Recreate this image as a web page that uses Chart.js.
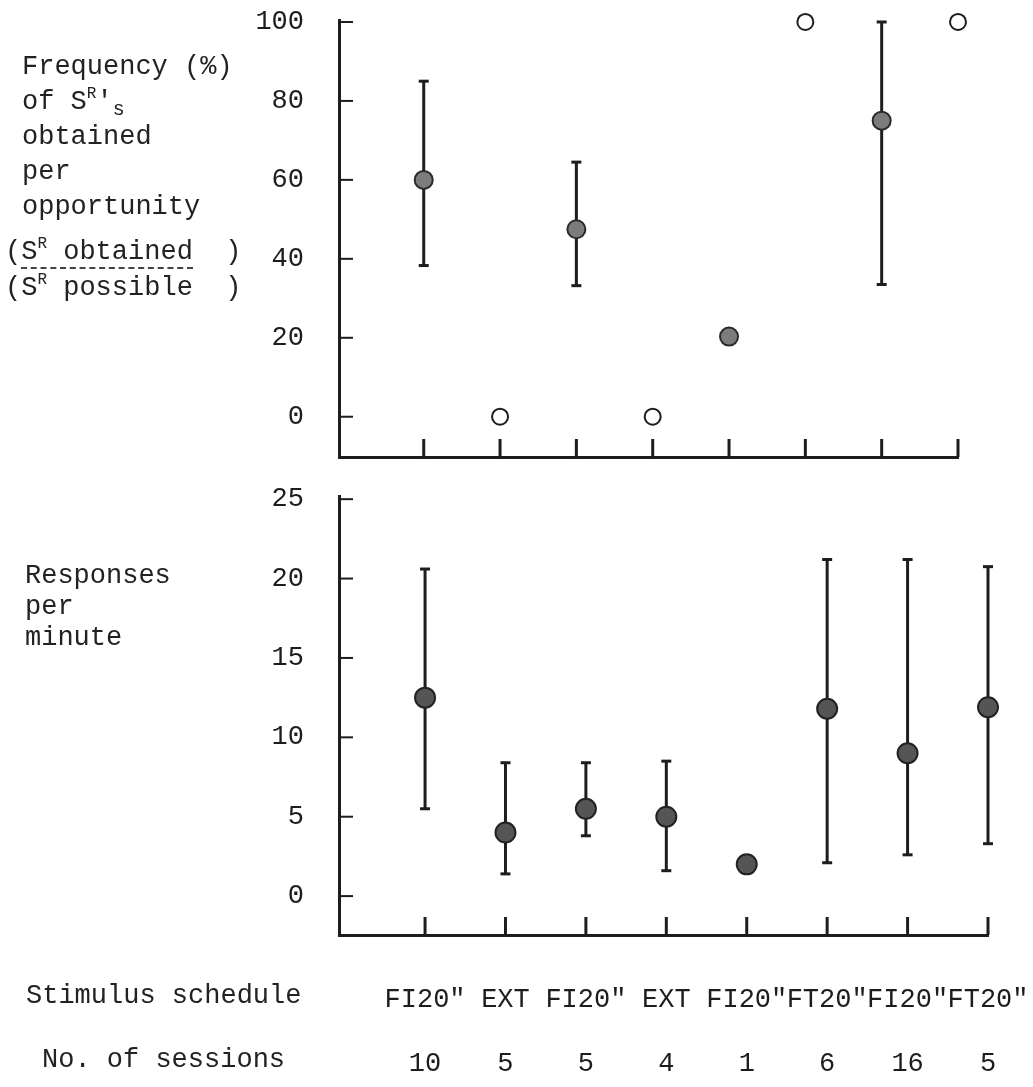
<!DOCTYPE html>
<html lang="en">
<head>
<meta charset="UTF-8">
<title>Reinforcement frequency and response rate by schedule</title>
<script src="https://cdn.jsdelivr.net/npm/chart.js@4.4.1/dist/chart.umd.min.js"></script>
<style>
  body { margin: 0; background: #fff; width: 1033px; height: 1087px; position: relative; overflow: hidden;
         font-family: "Liberation Mono", "DejaVu Sans Mono", monospace; font-size: 27px; color: #222; }
  .box { position: absolute; left: 0; width: 1033px; }
  .txt { position: absolute; white-space: pre; }
  sup { font-size: 16px; vertical-align: 11px; line-height: 0; }
  sub { font-size: 20px; vertical-align: -6px; line-height: 0; }
  .frac { border-bottom: 2px dashed #444; }
</style>
</head>
<body>
<div class="box" style="top:0;height:480px"><canvas id="freqChart" width="1033" height="480"></canvas></div>
<div class="box" style="top:480px;height:607px"><canvas id="rateChart" width="1033" height="607"></canvas></div>

<div class="txt" style="left:22px;top:50px;line-height:35px">Frequency (%)
of S<sup>R</sup>'<sub>s</sub>
obtained
per
opportunity</div>
<div class="txt" style="left:5px;top:234px;line-height:36px">(<span class="frac">S<sup>R</sup> obtained</span>  )
(S<sup>R</sup> possible  )</div>

<div class="txt" style="left:25px;top:561px;line-height:31px">Responses
per
minute</div>

<div class="txt" style="left:26px;top:981px">Stimulus schedule</div>
<div class="txt" style="left:42px;top:1045px">No. of sessions</div>

<script>

    // stimulus schedules, in session order
    var schedules = ['FI20"', 'EXT', 'FI20"', 'EXT', 'FI20"', 'FT20"', 'FI20"', 'FT20"'];
    var sessions = [10, 5, 5, 4, 1, 6, 16, 5];

    // frequency (%) of reinforcers obtained per opportunity
    var freqMean = [60, 0, 47.5, 0, 20.3, 100, 75, 100];
    var freqLow = [38.3, null, 33.2, null, null, null, 33.5, null];
    var freqHigh = [85, null, 64.5, null, null, null, 100, null];
    var freqHollow = [false, true, false, true, false, true, false, true];
    var freqTicks = [0, 20, 40, 60, 80, 100];

    // responses per minute
    var rateMean = [12.5, 4.0, 5.5, 5.0, 2.0, 11.8, 9.0, 11.9];
    var rateLow = [5.5, 1.4, 3.8, 1.6, null, 2.1, 2.6, 3.3];
    var rateHigh = [20.6, 8.4, 8.4, 8.5, null, 21.2, 21.2, 20.75];
    var rateTicks = [0, 5, 10, 15, 20, 25];

    var ink = '#1d1d1d';
    var mono = '"Liberation Mono", "DejaVu Sans Mono", monospace';

    function line(ctx, x1, y1, x2, y2) {
        ctx.beginPath();
        ctx.moveTo(x1, y1);
        ctx.lineTo(x2, y2);
        ctx.stroke();
    }

    // inner tick marks and error bars, placed through the chart's own scales
    var decor = {
        id: 'decor',
        beforeDatasetsDraw(chart, args, opts) {
            var ctx = chart.ctx, x = chart.scales.x, y = chart.scales.y, a = chart.chartArea;
            ctx.save();
            ctx.strokeStyle = ink;
            ctx.lineWidth = 2;
            y.ticks.forEach((t) => {
                var py = y.getPixelForValue(t.value);
                line(ctx, a.left, py, a.left + 14, py);
            });
            ctx.lineWidth = 3;
            for (var i = 0; i < schedules.length; i++) {
                var px = x.getPixelForValue(i);
                line(ctx, px, a.bottom, px, a.bottom - 18);
            }
            opts.low.forEach((lo, i) => {
                if (lo == null) return;
                var px = x.getPixelForValue(i);
                var p1 = y.getPixelForValue(lo), p2 = y.getPixelForValue(opts.high[i]);
                line(ctx, px, p1, px, p2);
                line(ctx, px - 5, p1, px + 5, p1);
                line(ctx, px - 5, p2, px + 5, p2);
            });
            ctx.restore();
        }
    };

    function points(values, keep) {
        return values.map((v, i) => ({ x: i, y: v })).filter((p, i) => keep(i));
    }

    function yScale(min, max, ticks) {
        return {
            min: min,
            max: max,
            afterBuildTicks: (s) => { s.ticks = ticks.map((v) => ({ value: v })); },
            afterFit: (s) => { s.width = 339; s.paddingTop = 0; s.paddingBottom = 0; },
            grid: { display: false, drawTicks: false },
            border: { display: true, color: ink, width: 3 },
            ticks: { color: ink, padding: 35, font: { family: mono, size: 27 } }
        };
    }

    new Chart(document.getElementById('freqChart'), {
        type: 'scatter',
        data: {
            datasets: [{
                data: points(freqMean, (i) => !freqHollow[i]),
                pointRadius: 9,
                pointBackgroundColor: '#7c7c7c',
                pointBorderColor: '#2a2a2a',
                pointBorderWidth: 2,
                clip: false
            }, {
                data: points(freqMean, (i) => freqHollow[i]),
                pointRadius: 8,
                pointBackgroundColor: '#fff',
                pointBorderColor: ink,
                pointBorderWidth: 2,
                clip: false
            }]
        },
        options: {
            responsive: false,
            animation: false,
            devicePixelRatio: 1,
            layout: { padding: { left: 0, top: 20, right: 75, bottom: 23 } },
            plugins: {
                legend: { display: false },
                tooltip: { enabled: false },
                decor: { low: freqLow, high: freqHigh }
            },
            scales: {
                x: {
                    type: 'linear',
                    min: -1.11,
                    max: 7,
                    afterFit: (s) => { s.height = 0; s.paddingLeft = 0; s.paddingRight = 0; },
                    grid: { display: false, drawTicks: false },
                    border: { display: true, color: ink, width: 3 },
                    ticks: { display: false }
                },
                y: yScale(-10.2, 100.5, freqTicks)
            }
        },
        plugins: [decor]
    });

    new Chart(document.getElementById('rateChart'), {
        type: 'scatter',
        data: {
            datasets: [{
                data: points(rateMean, () => true),
                pointRadius: 10,
                pointBackgroundColor: '#555',
                pointBorderColor: '#222',
                pointBorderWidth: 2,
                clip: false
            }]
        },
        options: {
            responsive: false,
            animation: false,
            devicePixelRatio: 1,
            layout: { padding: { left: 0, top: 16, right: 45, bottom: 0 } },
            plugins: {
                legend: { display: false },
                tooltip: { enabled: false },
                decor: { low: rateLow, high: rateHigh }
            },
            scales: {
                x: {
                    type: 'linear',
                    min: -1.07,
                    max: 7,
                    afterBuildTicks: (s) => { s.ticks = schedules.map((c, i) => ({ value: i })); },
                    afterFit: (s) => { s.height = 152; s.paddingLeft = 0; s.paddingRight = 0; },
                    grid: { display: false, drawTicks: false },
                    border: { display: true, color: ink, width: 3 },
                    ticks: {
                        color: ink,
                        padding: 32,
                        maxRotation: 0,
                        autoSkip: false,
                        font: { family: mono, size: 27, lineHeight: 2.4 },
                        callback: (v) => [schedules[v], String(sessions[v])]
                    }
                },
                y: yScale(-2.45, 25.2, rateTicks)
            }
        },
        plugins: [decor]
    });

</script>
</body>
</html>
